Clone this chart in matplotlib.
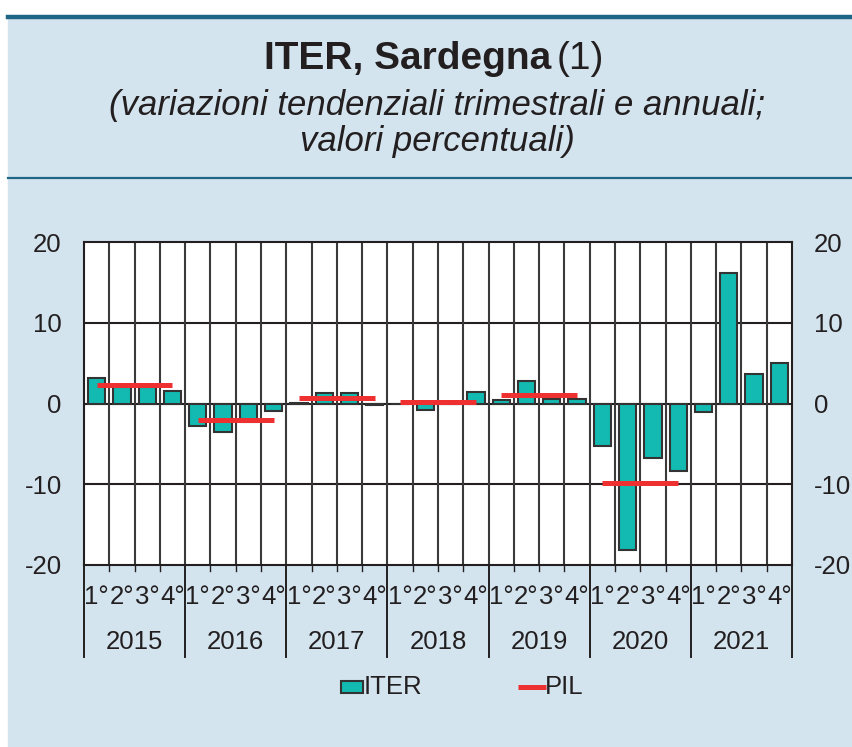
import numpy as np
import matplotlib.pyplot as plt
from matplotlib.lines import Line2D
from matplotlib.patches import Rectangle

plt.rcParams['font.family'] = ['Liberation Sans', 'DejaVu Sans']

years = ['2015', '2016', '2017', '2018', '2019', '2020', '2021']
quarters = ['1°', '2°', '3°', '4°']
iter_vals = [3.1, 2.0, 2.0, 1.5,
             -2.8, -3.5, -2.3, -0.9,
             0.1, 1.3, 1.3, -0.2,
             0.0, -0.8, 0.1, 1.4,
             0.4, 2.8, 0.6, 0.6,
             -5.3, -18.2, -6.8, -8.3,
             -1.1, 16.2, 3.7, 5.0]
pil_vals = [2.3, -2.1, 0.7, 0.2, 1.1, -9.8, np.nan]

BG = '#d3e4ee'
TEAL = '#12bab2'
RED = '#ee3030'
DARK = '#231f20'
FS = 18.5

W, H = 853, 747
fig = plt.figure(figsize=(W / 100, H / 100), dpi=100, facecolor='white')

def fx(px):
    return px / W

def fy(py):
    return 1 - py / H

# blue panel with header rules
fig.add_artist(Rectangle((fx(8), 0), 1 - fx(8), fy(17), color=BG, zorder=0))
fig.add_artist(Line2D([fx(8), 1], [fy(17)] * 2, color='#1f6585', lw=3.2))
fig.add_artist(Line2D([fx(8), 1], [fy(178)] * 2, color='#1f6585', lw=1.6))

fig.text(fx(551), fy(59), 'ITER, Sardegna', ha='right', va='center',
         fontsize=28, fontweight='bold', color=DARK)
fig.text(fx(557), fy(59), '(1)', ha='left', va='center',
         fontsize=28, color=DARK)
fig.text(fx(437), fy(105), '(variazioni tendenziali trimestrali e annuali;',
         ha='center', va='center', fontsize=25, style='italic', color=DARK)
fig.text(fx(437), fy(142), 'valori percentuali)',
         ha='center', va='center', fontsize=25, style='italic', color=DARK)

# plot area
ax = fig.add_axes([fx(84), fy(565), fx(792) - fx(84), fy(242) - fy(565)])
ax.set_facecolor('white')
n = len(iter_vals)
x = np.arange(n)
ax.bar(x, iter_vals, width=0.68, color=TEAL, edgecolor='#333333', lw=1.5, zorder=3)

# PIL: one segment per year spanning the quarter centres
for i, v in enumerate(pil_vals):
    ax.plot([4 * i, 4 * i + 3], [v, v], color=RED, lw=3.6, zorder=4,
            solid_capstyle='butt')

ax.set_xlim(-0.5, n - 0.5)
ax.set_ylim(-20, 20)
ax.set_yticks([-20, -10, 0, 10, 20])
ax.set_yticklabels(['-20', '-10', '0', '10', '20'])
ax.tick_params(axis='y', length=0, pad=16, labelsize=FS, labelright=True,
               labelcolor=DARK)
ax.set_xticks([])
for y in (-10, 0, 10):
    ax.axhline(y, color=DARK, lw=1.5, zorder=2)
for b in range(1, n):
    ax.axvline(b - 0.5, color='#3a3a3a', lw=1.5, zorder=2)
for s in ax.spines.values():
    s.set_color(DARK)
    s.set_linewidth(1.5)

# category table below the axis
tr = ax.get_xaxis_transform()
for b in range(n + 1):
    if b % 4 == 0:
        ax.plot([b - 0.5, b - 0.5], [0, -92 / 323], transform=tr, color=DARK,
                lw=1.4, clip_on=False)
    else:
        ax.plot([b - 0.5, b - 0.5], [0, -6 / 323], transform=tr, color=DARK,
                lw=1.0, clip_on=False)
for i in range(n):
    ax.text(i, -32 / 323, quarters[i % 4], transform=tr, ha='center',
            va='center', fontsize=FS, color=DARK)
for j, yr in enumerate(years):
    ax.text(4 * j + 1.5, -77 / 323, yr, transform=tr, ha='center',
            va='center', fontsize=FS, color=DARK)

# legend
fig.add_artist(Rectangle((fx(341), fy(693)), fx(22), fy(681) - fy(693),
                         facecolor=TEAL, edgecolor='#333333', lw=1.5))
fig.text(fx(364), fy(687), 'ITER', ha='left', va='center', fontsize=FS, color=DARK)
fig.add_artist(Line2D([fx(518), fx(546)], [fy(687)] * 2, color=RED, lw=3.6,
                      solid_capstyle='butt'))
fig.text(fx(545), fy(687), 'PIL', ha='left', va='center', fontsize=FS, color=DARK)

fig.savefig('out.png', dpi=100, facecolor='white')
